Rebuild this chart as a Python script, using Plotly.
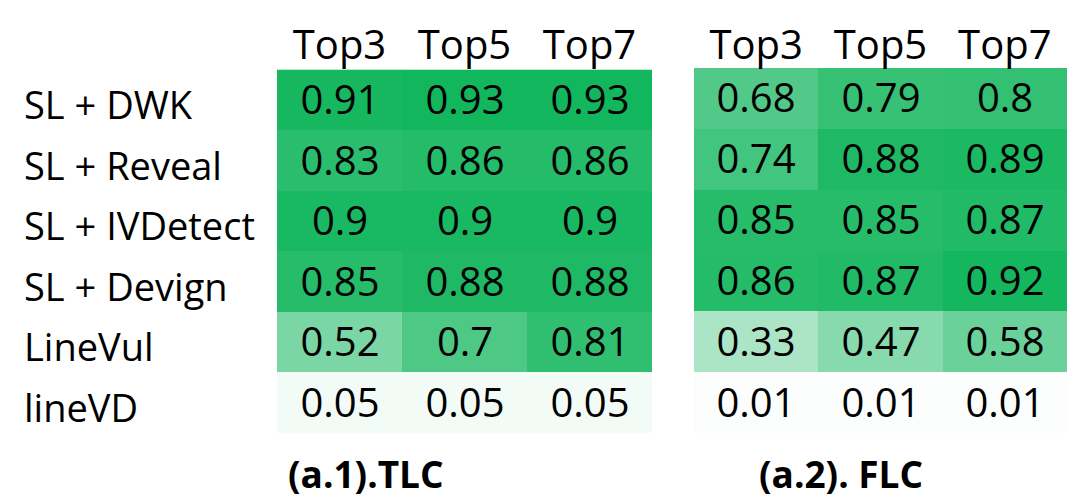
import plotly.graph_objects as go

models = ["SL + DWK", "SL + Reveal", "SL + IVDetect", "SL + Devign", "LineVul", "lineVD"]
cols = ["Top3", "Top5", "Top7"]
tlc = [
    [0.91, 0.93, 0.93],
    [0.83, 0.86, 0.86],
    [0.9, 0.9, 0.9],
    [0.85, 0.88, 0.88],
    [0.52, 0.7, 0.81],
    [0.05, 0.05, 0.05],
]
flc = [
    [0.68, 0.79, 0.8],
    [0.74, 0.88, 0.89],
    [0.85, 0.85, 0.87],
    [0.86, 0.87, 0.92],
    [0.33, 0.47, 0.58],
    [0.01, 0.01, 0.01],
]
titles = ["(a.1).TLC", "(a.2). FLC"]

W, H = 1080, 499
scale = [[0, "#ffffff"], [1, "#00b050"]]
font = "Open Sans"

fig = go.Figure()
for i, (z, xa, ya) in enumerate([(tlc, "x", "y"), (flc, "x2", "y2")]):
    fig.add_trace(go.Heatmap(
        z=z, x=cols, y=models, xaxis=xa, yaxis=ya,
        colorscale=scale, zmin=0, zmax=1, showscale=False,
        texttemplate="%{z}", textfont=dict(size=40, color="black", family=font),
        hoverinfo="skip",
    ))

top, bot = 68, 433
ydom = [1 - bot / H, 1 - top / H]
axcommon = dict(side="top", ticks="", automargin=False,
                tickfont=dict(size=40, color="black", family=font), showgrid=False,
                zeroline=False, showline=False, fixedrange=True)
ycommon = dict(autorange="reversed", showticklabels=False, ticks="", showgrid=False,
               automargin=False, zeroline=False, showline=False, fixedrange=True)

fig.update_layout(
    width=W, height=H, margin=dict(l=0, r=0, t=0, b=0),
    paper_bgcolor="white", plot_bgcolor="white",
    xaxis=dict(domain=[277 / W, 652 / W], anchor="y", **axcommon),
    yaxis=dict(domain=ydom, anchor="x", **ycommon),
    xaxis2=dict(domain=[694 / W, 1067 / W], anchor="y2", **axcommon),
    yaxis2=dict(domain=ydom, anchor="x2", **ycommon),
)

for m in models:
    fig.add_annotation(x=22 / W, xref="paper", y=m, yref="y", text=m, showarrow=False,
                       xanchor="left", yanchor="middle", yshift=-4,
                       font=dict(size=38, color="black", family=font))

for t, cx in zip(titles, [366, 841]):
    fig.add_annotation(x=cx / W, xref="paper", y=1 - 473 / H, yref="paper", text="<b>" + t + "</b>",
                       showarrow=False, xanchor="center", yanchor="middle",
                       font=dict(size=37, color="black", family=font))

fig.write_html("out.html", config={"displayModeBar": False},
               post_script="document.body.style.margin='0';document.body.style.overflow='hidden';")
